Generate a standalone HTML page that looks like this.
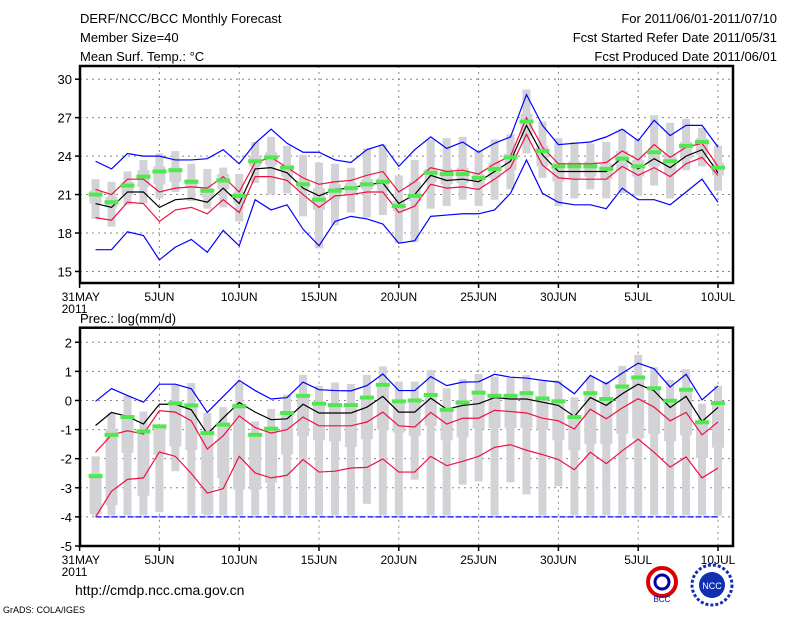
<!DOCTYPE html>
<html><head><meta charset="utf-8"><style>
body{margin:0;background:#fff;}
svg text{font-family:"Liberation Sans",sans-serif;}
</style></head><body>
<svg id="c" width="800" height="618" xmlns="http://www.w3.org/2000/svg">
<text x="80" y="23" font-size="13">DERF/NCC/BCC Monthly Forecast</text>
<text x="80" y="42" font-size="13">Member Size=40</text>
<text x="80" y="61" font-size="13">Mean Surf. Temp.: °C</text>
<text x="777" y="23" font-size="13" text-anchor="end">For 2011/06/01-2011/07/10</text>
<text x="777" y="42" font-size="13" text-anchor="end">Fcst Started Refer Date 2011/05/31</text>
<text x="777" y="61" font-size="13" text-anchor="end">Fcst Produced Date 2011/06/01</text>
<text x="80" y="323" font-size="13">Prec.: log(mm/d)</text>
<text x="75" y="595" font-size="14">http://cmdp.ncc.cma.gov.cn</text>
<text x="3" y="613" font-size="9">GrADS: COLA/IGES</text>
<g><circle cx="662" cy="582" r="14" fill="none" stroke="#d00" stroke-width="4"/><circle cx="662" cy="582" r="7" fill="none" stroke="#00a" stroke-width="3"/><text x="662" y="602" font-size="8" text-anchor="middle" fill="#00a">BCC</text></g>
<g><circle cx="712" cy="585" r="20" fill="none" stroke="#1030b0" stroke-width="3" stroke-dasharray="3 2"/><circle cx="712" cy="585" r="13" fill="#1030b0"/><text x="712" y="589" font-size="9" text-anchor="middle" fill="#fff">NCC</text></g>
</svg>
<script>
const days=[];for(let i=1;i<=40;i++)days.push(i);
// Top panel: temperature
const tBlueHi=[23.6,23.0,24.2,24.0,24.0,23.7,23.7,23.8,24.5,23.4,25.0,26.1,25.0,24.3,24.3,23.7,23.5,24.5,24.9,23.2,24.5,25.5,24.6,25.1,24.3,25.0,25.5,28.8,26.4,24.9,25.0,25.1,25.5,26.1,25.2,26.8,25.6,26.4,26.4,24.7];
const tRedHi=[21.4,21.0,22.2,22.2,21.2,21.5,21.6,21.5,22.4,21.2,23.5,23.9,23.1,22.3,21.8,22.0,22.1,22.5,22.8,21.2,22.0,23.1,22.8,22.9,22.6,23.4,24.0,27.0,24.7,23.4,23.4,23.4,23.5,24.4,23.7,24.9,23.9,24.7,25.0,23.2];
const tMean=[20.3,20.0,21.2,21.2,20.0,20.6,20.7,20.4,21.5,20.3,23.0,23.1,22.7,21.5,20.9,21.4,21.5,21.8,21.9,20.3,21.0,22.5,22.1,22.2,22.0,22.8,23.6,26.4,24.1,22.8,22.8,22.8,22.8,23.9,23.0,23.8,23.1,24.0,24.5,22.7];
const tRedLo=[19.2,19.0,20.4,20.3,18.9,19.8,20.0,19.5,20.6,19.6,22.4,22.4,22.1,21.0,20.0,20.9,21.0,21.2,21.2,19.6,20.1,21.8,21.5,21.6,21.4,22.2,23.1,25.7,23.3,22.3,22.2,22.2,22.2,23.2,22.5,23.1,22.4,23.4,23.9,22.5];
const tBlueLo=[16.7,16.7,18.1,17.8,15.9,16.9,17.5,16.5,18.2,17.0,20.6,19.8,20.2,18.3,17.0,18.9,19.3,19.1,18.7,17.2,17.4,19.3,19.4,19.5,19.5,19.8,21.1,23.7,21.1,20.4,20.2,20.2,19.9,21.5,20.6,20.6,20.2,21.2,22.2,20.4];
const tObs=[21.0,20.4,21.7,22.4,22.8,22.9,22.0,21.3,22.1,20.9,23.6,23.9,23.1,21.8,20.6,21.3,21.5,21.8,22.0,20.1,20.9,22.7,22.6,22.6,22.3,23.0,23.9,26.7,24.4,23.2,23.2,23.2,23.0,23.8,23.2,24.3,23.6,24.8,25.1,23.1];
const tWHi=[22.2,22.0,22.8,23.7,24.2,24.4,23.4,23.0,23.1,22.6,25.1,25.5,24.8,24.1,23.5,23.4,23.1,24.6,24.9,22.5,23.7,25.3,25.4,25.5,24.4,25.3,25.7,29.2,26.7,25.4,25.1,25.0,25.1,26.1,25.3,27.2,26.6,26.9,26.2,24.8];
const tWLo=[19.1,18.5,20.2,20.3,20.7,21.2,20.5,19.9,20.0,18.9,21.9,21.0,21.1,19.3,16.8,18.6,19.6,19.2,19.4,17.2,17.3,19.9,20.1,20.6,20.1,20.6,21.4,24.2,22.3,20.1,20.7,21.4,20.7,21.1,20.9,21.7,20.7,22.9,23.2,21.3];
const tBHi=[21.3,20.8,22.0,22.9,23.2,23.1,22.2,21.5,22.6,21.2,24.0,24.3,23.3,22.1,21.5,21.8,21.9,22.2,22.3,20.5,22.0,23.0,23.0,23.1,22.6,23.5,24.2,27.3,24.8,23.5,23.6,23.6,23.4,24.4,23.7,24.6,24.2,25.1,25.4,23.5];
const tBLo=[20.3,20.0,21.0,21.6,21.8,22.0,21.5,20.8,21.4,20.3,23.2,23.3,22.4,21.4,19.8,20.7,21.0,21.4,21.3,19.7,20.5,22.0,21.8,21.9,21.6,22.3,22.9,25.6,23.2,22.0,22.2,22.4,22.2,22.9,22.4,23.2,22.6,23.8,24.1,22.5];
const tTicks=[15,18,21,24,27,30];
// Bottom panel: precipitation
const pBlueHi=[-0.03,0.41,0.17,-0.06,0.56,0.56,0.4,-0.41,0.14,0.69,0.34,0.05,0.1,0.63,0.37,0.34,0.33,0.51,0.91,0.34,0.34,0.82,0.51,0.63,0.64,0.9,0.8,0.77,0.69,0.63,0.23,0.86,0.57,0.94,1.28,1.09,0.46,0.9,0.02,0.5];
const pMean=[-0.86,-0.41,-0.55,-0.81,-0.13,-0.13,-0.32,-1.15,-0.6,-0.07,-0.4,-0.66,-0.63,-0.13,-0.43,-0.43,-0.43,-0.23,0.14,-0.4,-0.4,0.08,-0.3,-0.17,-0.11,0.1,0.05,0.05,-0.06,-0.17,-0.55,0.1,-0.17,0.23,0.56,0.33,-0.24,0.14,-0.72,-0.24];
const pRedHi=[-1.78,-1.18,-1.04,-1.15,-0.35,-0.4,-0.7,-1.67,-1.21,-0.53,-0.93,-1.12,-1.0,-0.57,-0.87,-0.87,-0.87,-0.74,-0.4,-0.87,-0.91,-0.41,-0.81,-0.61,-0.61,-0.34,-0.38,-0.43,-0.61,-0.7,-0.98,-0.3,-0.63,-0.26,0.06,-0.23,-0.7,-0.41,-1.18,-0.74];
const pRedLo=[-4.0,-3.12,-2.71,-2.66,-1.77,-1.92,-2.51,-3.18,-3.03,-1.92,-2.49,-2.66,-2.57,-2.03,-2.46,-2.43,-2.32,-2.3,-2.01,-2.46,-2.46,-1.92,-2.24,-2.09,-1.92,-1.61,-1.52,-1.71,-1.86,-2.03,-2.38,-1.78,-2.17,-1.73,-1.33,-1.78,-2.29,-1.94,-2.66,-2.32];
const pBlueLo=[-4,-4,-4,-4,-4,-4,-4,-4,-4,-4,-4,-4,-4,-4,-4,-4,-4,-4,-4,-4,-4,-4,-4,-4,-4,-4,-4,-4,-4,-4,-4,-4,-4,-4,-4,-4,-4,-4,-4,-4];
const pObs=[-2.6,-1.18,-0.57,-1.06,-0.89,-0.1,-0.17,-1.12,-0.83,-0.2,-1.18,-0.97,-0.43,0.16,-0.11,-0.16,-0.16,0.1,0.54,-0.03,0.0,0.19,-0.32,-0.07,0.27,0.16,0.16,0.25,0.07,-0.03,-0.57,0.25,0.05,0.48,0.79,0.42,-0.01,0.37,-0.75,-0.09];
const pWHi=[-1.92,-0.43,0.16,-0.38,-0.95,0.54,0.6,-0.43,-0.23,0.6,-0.72,-0.29,0.2,0.88,0.5,0.62,0.57,0.88,1.17,0.65,0.65,1.05,0.42,0.73,0.91,0.82,0.77,0.88,0.65,0.69,0.11,0.82,0.65,1.19,1.57,1.14,0.71,1.07,-0.11,0.5];
const pWLo=[-3.95,-3.95,-3.95,-3.95,-3.84,-2.43,-3.95,-3.95,-3.95,-3.95,-3.95,-3.95,-3.95,-3.95,-3.95,-3.95,-3.95,-3.55,-3.95,-3.95,-2.72,-3.95,-3.95,-2.89,-2.78,-3.95,-2.81,-3.23,-3.95,-2.95,-3.95,-3.95,-3.95,-3.95,-3.95,-3.95,-3.95,-3.95,-3.95,-3.95];
const pBHi=[-2.5,-1.0,-0.55,-1.0,-0.95,-0.1,-0.2,-1.1,-0.9,-0.1,-1.2,-0.95,-0.43,0.16,-0.11,-0.16,-0.16,0.1,0.54,-0.03,0.0,0.19,-0.32,-0.07,0.27,0.16,0.16,0.25,0.07,-0.03,-0.57,0.25,0.05,0.48,0.79,0.42,-0.01,0.37,-0.75,-0.09];
const pBLo=[-3.9,-3.6,-1.8,-3.27,-1.86,-1.58,-1.7,-3.9,-2.67,-3.06,-3.06,-2.83,-1.86,-1.23,-1.37,-1.4,-1.6,-1.33,-1.0,-1.1,-1.21,-0.87,-1.37,-1.27,-0.97,-0.95,-0.95,-0.95,-1.0,-1.37,-1.71,-1.5,-1.5,-1.15,-1.3,-1.15,-1.4,-1.2,-1.98,-1.62];
const pTicks=[-5,-4,-3,-2,-1,0,1,2];
const xLabels=["31MAY","5JUN","10JUN","15JUN","20JUN","25JUN","30JUN","5JUL","10JUL"];
const xLabelDays=[0,5,10,15,20,25,30,35,40];

const svg=document.getElementById('c');const NS='http://www.w3.org/2000/svg';
function mk(tag,at,parent){const e=document.createElementNS(NS,tag);for(const k in at)e.setAttribute(k,at[k]);(parent||svg).appendChild(e);return e;}
const X0=79.6,DX=15.96,FL=80,FR=733;
function xs(d){return X0+DX*d;}
function panel(name,top,bot,vTop,vBot,ticks,S){
  const g=mk('g',{});
  
  
  const ys=v=>top+(vTop-v)/(vTop-vBot)*(bot-top);
  ticks.forEach(t=>{const y=ys(t);
    if(y>top+1&&y<bot-1){const l=mk('line',{x1:FL,x2:FR,y1:y,y2:y,stroke:'#888','stroke-dasharray':'2 4','stroke-width':1},g);}
    const tk=mk('line',{x1:FL-5,x2:FL,y1:y,y2:y,stroke:'#000','stroke-width':1.5},g);
    const tx=mk('text',{x:FL-8,y:y+5,'font-size':13,'text-anchor':'end'},g);tx.textContent=t;});
  xLabelDays.forEach((d,i)=>{const x=xs(d);
    if(d>0){const l=mk('line',{x1:x,x2:x,y1:top,y2:bot,stroke:'#888','stroke-dasharray':'2 4','stroke-width':1},g);}
    const tk=mk('line',{x1:x,x2:x,y1:bot,y2:bot+5,stroke:'#000','stroke-width':1.5},g);
    const tx=mk('text',{x:d==0?x-18:x,y:bot+18,'font-size':12,'text-anchor':d==0?'start':'middle'},g);tx.textContent=xLabels[i];
    if(d==0){const yr=mk('text',{x:x-18,y:bot+30,'font-size':12},g);yr.textContent='2011';}});
  days.forEach((d,i)=>{const x=xs(d);
    const w=mk('rect',{x:x-4,y:ys(S.wHi[i]),width:8,height:ys(S.wLo[i])-ys(S.wHi[i]),fill:'#d3d3d7'},g);
    const b=mk('rect',{x:x-6,y:ys(S.bHi[i]),width:12,height:Math.max(1,ys(S.bLo[i])-ys(S.bHi[i])),fill:'#d3d3d7'},g);});
  const line=(arr,col,nm,dash)=>{const p=mk('polyline',{points:days.map((d,i)=>xs(d)+','+ys(arr[i])).join(' '),fill:'none',stroke:col,'stroke-width':1.2},g);if(dash)p.setAttribute('stroke-dasharray',dash);};
  line(S.blueHi,'#0000ff','max-line');line(S.blueLo,'#0000ff','min-line',S.loDash);
  line(S.redHi,'#f01040','upper-std-line');line(S.redLo,'#f01040','lower-std-line');
  line(S.mean,'#000','ensemble-mean-line');
  days.forEach((d,i)=>{const r=mk('rect',{x:xs(d)-7,y:ys(S.obs[i])-2,width:14,height:4,fill:'#50e850'},g);});
  const f=mk('rect',{x:FL,y:top,width:FR-FL,height:bot-top,fill:'none',stroke:'#000','stroke-width':2.5},g);
}
panel('temperature-panel',66,283,31.03,14.1,tTicks,{blueHi:tBlueHi,blueLo:tBlueLo,redHi:tRedHi,redLo:tRedLo,mean:tMean,obs:tObs,wHi:tWHi,wLo:tWLo,bHi:tBHi,bLo:tBLo});
panel('precipitation-panel',327.7,546,2.5,-5,pTicks,{blueHi:pBlueHi,blueLo:pBlueLo,redHi:pRedHi,redLo:pRedLo,mean:pMean,obs:pObs,wHi:pWHi,wLo:pWLo,bHi:pBHi,bLo:pBLo,loDash:'6 2'});
</script>
</body></html>
